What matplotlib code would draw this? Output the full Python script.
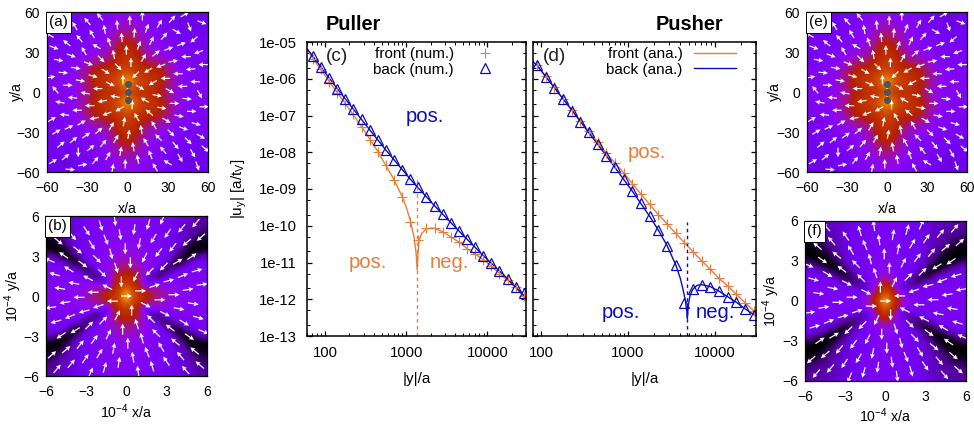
import matplotlib
matplotlib.use("Agg")
import matplotlib.pyplot as plt
import numpy as np
from matplotlib.colors import LinearSegmentedColormap
from matplotlib.ticker import FixedLocator, FuncFormatter, NullFormatter

plt.rcParams["font.family"] = ["Liberation Sans", "DejaVu Sans"]
plt.rcParams["mathtext.default"] = "regular"

W, H = 974, 425
ORANGE = "#ea7d3c"
BLUE = "#0d0db8"

# Data: velocity decay, panels (c) and (d)
y_grid = [70.8, 89.1, 112, 141, 178, 224, 282, 355, 447, 562, 708, 891, 1122, 1413, 1778, 2239, 2818, 3548, 4467, 5623, 7079, 8913, 11220, 14125, 17783, 22387, 28184]

c_front = [3.5e-6, 1.9e-6, 8.2e-7, 4.1e-7, 2.1e-7, 1.07e-7, 4.9e-8, 2.1e-8, 1.03e-8, 4.5e-9, 1.75e-9, 6.2e-10, 1.3e-10, 4.1e-11, 8.9e-11, 8.5e-11, 6.9e-11, 5.0e-11, 3.7e-11, 2.4e-11, 1.7e-11, 1.2e-11, 8e-12, 5e-12, 3.3e-12, 2.1e-12, 1.23e-12]
c_back = [4.1e-6, 2.1e-6, 1.05e-6, 5.4e-7, 2.8e-7, 1.5e-7, 7.8e-8, 4.1e-8, 2.1e-8, 1.15e-8, 6.0e-9, 3.3e-9, 1.86e-9, 1.1e-9, 5.9e-10, 3.5e-10, 2.1e-10, 1.2e-10, 7.2e-11, 4.4e-11, 2.6e-11, 1.55e-11, 9.8e-12, 5.9e-12, 3.6e-12, 2.2e-12, 1.45e-12]
c_front_line_x = [60, 70.8, 112, 178, 282, 447, 708, 891, 1000, 1122, 1250, 1330, 1368, 1395, 1440, 1550, 1778, 2050, 2239, 2818, 3548, 4467, 5623, 7079, 8913, 11220, 14125, 17783, 22387, 30000]
c_front_line_y = [6.2e-6, 3.6e-6, 8.6e-7, 2.1e-7, 5.0e-8, 1.05e-8, 1.8e-9, 6.2e-10, 3.3e-10, 1.4e-10, 5e-11, 1.7e-11, 6.3e-12, 1.6e-11, 3.9e-11, 6.2e-11, 8.2e-11, 8.7e-11, 8.5e-11, 6.9e-11, 5.0e-11, 3.6e-11, 2.4e-11, 1.7e-11, 1.2e-11, 8e-12, 5e-12, 3.3e-12, 2.1e-12, 1.0e-12]
c_back_line_x = [60, 70.8, 141, 282, 562, 1122, 2239, 4467, 8913, 17783, 30000]
c_back_line_y = [6.6e-6, 4.1e-6, 5.4e-7, 7.8e-8, 1.15e-8, 1.86e-9, 3.5e-10, 7.2e-11, 1.55e-11, 3.6e-12, 1.1e-12]

d_front = [2.3e-6, 1.17e-6, 5.8e-7, 2.9e-7, 1.45e-7, 7.1e-8, 3.7e-8, 1.9e-8, 9.3e-9, 5.1e-9, 2.75e-9, 1.41e-9, 7.2e-10, 3.8e-10, 2.0e-10, 1.13e-10, 6.2e-11, 3.5e-11, 1.95e-11, 1.12e-11, 6.5e-12, 3.7e-12, 2.3e-12, 1.35e-12, 8.1e-13, 4.9e-13]
d_back = [2.3e-6, 1.1e-6, 5.5e-7, 2.8e-7, 1.35e-7, 6.7e-8, 3.5e-8, 1.65e-8, 8e-9, 3.9e-9, 1.86e-9, 8.7e-10, 4.1e-10, 1.8e-10, 7.6e-11, 2.9e-11, 8.7e-12, 7.8e-13, 1.9e-12, 2.5e-12, 2.2e-12, 1.66e-12, 1.17e-12, 8.3e-13, 5.5e-13, 3.7e-13]
d_back_line_x = [80, 89.1, 224, 562, 1122, 1778, 2239, 2818, 3548, 4000, 4300, 4600, 4780, 4840, 4950, 5200, 5623, 6300, 7079, 8913, 11220, 14125, 17783, 22387, 30000]
d_back_line_y = [2.9e-6, 2.3e-6, 1.4e-7, 8.0e-9, 8.7e-10, 1.8e-10, 7.6e-11, 2.9e-11, 8.7e-12, 3.8e-12, 1.9e-12, 9e-13, 4.5e-13, 3e-13, 6.5e-13, 1.3e-12, 1.9e-12, 2.4e-12, 2.5e-12, 2.2e-12, 1.66e-12, 1.17e-12, 8.3e-13, 5.5e-13, 3.5e-13]

c_zero = 1368
d_zero = 4840

# Palette of the colour maps, black through purple and red to yellow
palette = [(0, 0, 0), (.316, .001, .588), (.447, .008, .951), (.548, .027, .951), (.632, .064, .588), (.707, .125, 0), (.775, .216, 0), (.837, .343, 0), (.894, .512, 0), (.949, .729, 0), (1, 1, 0)]

# One quadrant of each map, first row is y=0, first column is x=0
near_field = [
    [.62, .52, .56, .52, .42, .32, .27, .26, .27],
    [.98, .68, .60, .56, .47, .36, .28, .26, .26],
    [.70, .60, .58, .55, .47, .35, .28, .25, .25],
    [.62, .56, .46, .46, .40, .30, .26, .24, .24],
    [.58, .52, .38, .33, .30, .27, .24, .23, .23],
    [.54, .47, .34, .28, .26, .24, .23, .22, .22],
    [.46, .40, .31, .27, .25, .22, .21, .20, .21],
    [.38, .33, .29, .26, .23, .21, .19, .18, .20],
    [.32, .29, .26, .24, .22, .20, .19, .18, .20],
]
far_puller = [
    [1.0, .66, .58, .52, .47, .42, .37, .33, .30, .28, .27, .26, .26],
    [.80, .62, .55, .48, .42, .38, .34, .31, .29, .27, .26, .25, .25],
    [.60, .55, .45, .12, .25, .30, .30, .28, .27, .26, .25, .25, .25],
    [.54, .52, .44, .30, .06, .04, .18, .24, .25, .25, .25, .24, .24],
    [.48, .45, .38, .31, .25, .15, .02, .12, .21, .24, .24, .24, .24],
    [.40, .38, .34, .30, .26, .23, .17, .03, .01, .12, .20, .23, .22],
    [.35, .34, .32, .29, .26, .24, .22, .15, .04, .00, .05, .14, .18],
    [.32, .31, .30, .28, .26, .24, .22, .20, .14, .04, .00, .00, .04],
    [.30, .30, .28, .27, .25, .24, .22, .20, .18, .12, .03, .00, .00],
    [.28, .28, .27, .26, .25, .23, .22, .20, .18, .16, .10, .05, .03],
    [.27, .27, .26, .25, .24, .23, .22, .20, .18, .16, .13, .09, .07],
    [.27, .26, .26, .25, .24, .23, .22, .20, .18, .17, .15, .12, .10],
    [.26, .26, .25, .25, .24, .23, .22, .20, .19, .18, .16, .14, .12],
]
far_pusher = [
    [1.0, .62, .50, .34, .27, .25, .24, .24, .24, .24, .24, .24, .24],
    [.72, .58, .42, .28, .24, .22, .22, .23, .23, .23, .23, .23, .23],
    [.60, .50, .28, .10, .16, .22, .23, .23, .23, .23, .23, .23, .23],
    [.50, .38, .26, .20, .10, .03, .12, .18, .21, .22, .22, .22, .22],
    [.36, .30, .25, .22, .18, .10, .01, .03, .14, .18, .20, .21, .21],
    [.30, .28, .24, .22, .20, .17, .10, .01, .00, .04, .13, .17, .19],
    [.27, .26, .24, .22, .21, .19, .16, .09, .01, .00, .00, .04, .10],
    [.25, .25, .24, .22, .21, .20, .17, .14, .08, .02, .00, .00, .00],
    [.25, .24, .23, .22, .21, .20, .18, .15, .11, .07, .03, .00, .00],
    [.24, .24, .23, .22, .21, .20, .18, .16, .13, .10, .07, .04, .03],
    [.24, .24, .23, .22, .21, .20, .18, .16, .14, .12, .10, .08, .07],
    [.24, .24, .23, .22, .21, .20, .18, .16, .15, .13, .12, .11, .10],
    [.24, .24, .23, .22, .21, .20, .18, .17, .15, .14, .13, .12, .12],
]

# Arrow directions in degrees on a 15x15 table, top row first, left column first
arrows_near = [
    [170, 150, 150, 130, 130, 110, 100, 90, 90, 80, 60, 50, 30, 0, -20],
    [140, 140, 120, 120, 110, 100, 95, 90, 85, 70, 60, 50, -30, -70, -120],
    [150, 140, 130, 120, 120, 110, 95, 90, 80, 65, 50, 40, 20, -140, -130],
    [-20, -10, 130, 120, 150, 120, 100, 90, 70, 50, 40, 20, 170, -140, -160],
    [-15, -10, -20, -20, -30, -45, -60, 90, 60, 45, 30, 10, 180, -170, 180],
    [-5, -5, -10, -15, -20, -30, -45, 90, -135, -150, -160, 175, 180, -175, 180],
    [10, 0, -5, -10, -15, -25, -40, 90, -130, -150, -170, 180, 180, 180, 175],
    [130, 100, 110, 170, 180, 180, 170, 90, -30, -20, -10, -30, -60, -70, -60],
    [150, 170, 175, 180, -175, -170, -160, 90, 130, 150, -10, 0, 0, -5, 0],
    [170, 175, 180, -170, -170, -160, -150, 80, 120, 140, -30, -20, -10, 0, 0],
    [30, 20, 25, 30, 35, -100, 60, 80, 110, 120, -45, -30, -20, -15, -10],
    [30, 30, 30, 35, 40, 50, 60, 80, 100, 120, 135, -45, -40, -35, -30],
    [35, 40, 40, 45, 40, 50, 70, 90, 100, 120, 130, -60, -50, -45, -40],
    [35, 40, -90, 20, 50, 60, 80, 90, 100, 110, 130, 150, -60, -60, -50],
    [30, 60, -5, 10, 30, 60, 80, 90, 90, 100, 120, 150, 160, -60, -70],
]
arrows_puller = [
    [-45, -49, -54, -60, -67, -74, -82, -90, -98, -106, -113, -120, -126, -131, -135],
    [-41, -45, -50, -56, -63, -72, -81, -90, -99, -108, -117, -124, -130, -135, -139],
    [-36, -40, -45, -51, -59, -68, -79, -90, -101, -112, -121, -129, -135, -140, -144],
    [150, 146, -39, -45, -53, -63, -76, -90, -104, -117, -127, -135, -141, 34, 30],
    [157, 153, 149, -37, -45, -56, -72, -90, -108, -124, -135, -143, 31, 27, 23],
    [164, 162, 158, 153, 146, -45, -63, -90, -117, -135, 34, 27, 22, 18, 16],
    [172, 171, 169, 166, 162, 153, -45, -90, -135, 27, 18, 14, 11, 9, 8],
    [180, 180, 180, 180, 180, 180, 180, 0, 0, 0, 0, 0, 0, 0, 0],
    [-172, -171, -169, -166, -162, -153, 45, 90, 135, -27, -18, -14, -11, -9, -8],
    [-164, -162, -158, -153, -146, 45, 63, 90, 117, 135, -34, -27, -22, -18, -16],
    [-157, -153, -149, 37, 45, 56, 72, 90, 108, 124, 135, 143, -31, -27, -23],
    [-150, -146, 39, 45, 53, 63, 76, 90, 104, 117, 127, 135, 141, -34, -30],
    [36, 40, 45, 51, 59, 68, 79, 90, 101, 112, 121, 129, 135, 140, 144],
    [41, 45, 50, 56, 63, 72, 81, 90, 99, 108, 117, 124, 130, 135, 139],
    [45, 49, 54, 60, 67, 74, 82, 90, 98, 106, 113, 120, 126, 131, 135],
]
arrows_pusher = [
    [135, 131, 126, 120, 113, 106, 98, 90, 82, 74, 67, 60, 54, 49, 45],
    [139, 135, 130, 124, 117, 108, 99, 90, 81, 72, 63, 56, 50, 45, 41],
    [144, 140, 135, 129, 121, 112, 101, 90, 79, 68, 59, 51, 45, 40, 36],
    [-30, -34, 141, 135, 127, 117, 104, 90, 76, 63, 53, 45, 39, -146, -150],
    [-23, -27, -31, 143, 135, 124, 108, 90, 72, 56, 45, 37, -149, -153, -157],
    [-16, -18, -22, -27, -34, 135, 117, 90, 63, 45, -146, -153, -158, -162, -164],
    [-8, -9, -11, -14, -18, -27, 135, 90, 45, -153, -162, -166, -169, -171, -172],
    [0, 0, 0, 0, 0, 0, 0, 0, 180, 180, 180, 180, 180, 180, 180],
    [8, 9, 11, 14, 18, 27, -135, -90, -45, 153, 162, 166, 169, 171, 172],
    [16, 18, 22, 27, 34, -135, -117, -90, -63, -45, 146, 153, 158, 162, 164],
    [23, 27, 31, -143, -135, -124, -108, -90, -72, -56, -45, -37, 149, 153, 157],
    [30, 34, -141, -135, -127, -117, -104, -90, -76, -63, -53, -45, -39, 146, 150],
    [-144, -140, -135, -129, -121, -112, -101, -90, -79, -68, -59, -51, -45, -40, -36],
    [-139, -135, -130, -124, -117, -108, -99, -90, -81, -72, -63, -56, -50, -45, -41],
    [-135, -131, -126, -120, -113, -106, -98, -90, -82, -74, -67, -60, -54, -49, -45],
]
swimmer_y = [6, 0, -6]
ticks_near = [-60, -30, 0, 30, 60]
ticks_far = [-6, -3, 0, 3, 6]


def px_axes(fig, left, top, right, bottom):
    return fig.add_axes([left / W, 1 - bottom / H, (right - left) / W, (bottom - top) / H])


def mirror(quadrant):
    q = np.array(quadrant)
    top = np.hstack([q[:, :0:-1], q])
    return np.vstack([top[:0:-1], top])


def tilted_lattice(limit, step, tilt=20):
    # arrows sit on a slightly rotated square lattice
    u, v = np.meshgrid(np.arange(-14, 15) * step, np.arange(-14, 15) * step)
    t = np.deg2rad(tilt)
    x = u * np.cos(t) - v * np.sin(t)
    y = u * np.sin(t) + v * np.cos(t)
    keep = (np.abs(x) < limit * 0.97) & (np.abs(y) < limit * 0.97)
    return x[keep], y[keep]


def field_panel(fig, rect, grid, angles, limit, ticks, label, xlabel, ylabel, length, step, label_x, label_pad):
    ax = px_axes(fig, *rect)
    ax.imshow(mirror(grid), cmap=cmap, vmin=0, vmax=1, origin="lower", interpolation="bicubic",
              extent=[-limit, limit, -limit, limit], aspect="auto")
    x, y = tilted_lattice(limit, step)
    cell = limit * 2 * 0.93 / 14
    col = np.clip(np.round((x + limit * 0.93) / cell).astype(int), 0, 14)
    row = np.clip(np.round((limit * 0.93 - y) / cell).astype(int), 0, 14)
    rad = np.deg2rad(np.array(angles)[row, col])
    ax.quiver(x, y, length * np.cos(rad), length * np.sin(rad), color="white", units="dots",
              angles="uv", scale=1, scale_units="dots", width=1.2, headwidth=4, headlength=4, headaxislength=3.5,
              pivot="mid", minlength=0)
    ax.set_xlim(-limit, limit)
    ax.set_ylim(-limit, limit)
    ax.set_xticks(ticks)
    ax.set_yticks(ticks)
    ax.tick_params(length=0, labelsize=10)
    ax.tick_params(axis="x", pad=6.5)
    ax.tick_params(axis="y", pad=5)
    ax.set_xlabel(xlabel, fontsize=10.2, labelpad=label_pad)
    ax.set_ylabel(ylabel, fontsize=10.2)
    ax.yaxis.set_label_coords(label_x, 0.5)
    for s in ax.spines.values():
        s.set_linewidth(0.9)
    ax.text(0.014, 0.98, label, transform=ax.transAxes, ha="left", va="top", fontsize=11, zorder=5,
            bbox=dict(boxstyle="square,pad=0.22", fc="white", ec="black", lw=0.7))
    return ax


def log_panel(fig, rect, xlim, label, label_x):
    ax = px_axes(fig, *rect)
    ax.set_xscale("log")
    ax.set_yscale("log")
    ax.set_xlim(*xlim)
    ax.set_ylim(1e-13, 1e-5)
    ax.xaxis.set_major_locator(FixedLocator([100, 1000, 10000]))
    ax.xaxis.set_minor_locator(FixedLocator([m * d for d in (10, 100, 1000, 10000) for m in range(2, 10)]))
    ax.yaxis.set_major_locator(FixedLocator([10.0 ** e for e in range(-13, -4)]))
    ax.yaxis.set_minor_locator(FixedLocator([m * 10.0 ** e for e in range(-13, -5) for m in (2, 5)]))
    ax.xaxis.set_major_formatter(FuncFormatter(lambda v, p: "%d" % v))
    ax.xaxis.set_minor_formatter(NullFormatter())
    ax.yaxis.set_major_formatter(FuncFormatter(lambda v, p: "%.0e" % v))
    ax.yaxis.set_minor_formatter(NullFormatter())
    ax.tick_params(which="major", direction="in", top=True, right=True, length=3.8, width=0.9, labelsize=10.7)
    ax.tick_params(axis="x", which="major", pad=7)
    ax.tick_params(axis="y", which="major", pad=7.5)
    ax.tick_params(which="minor", direction="in", top=True, right=True, length=2, width=0.7)
    for s in ax.spines.values():
        s.set_linewidth(1.1)
    ax.set_xlabel("|y|/a", fontsize=11, labelpad=8.5)
    ax.text(label_x, 0.95, label, transform=ax.transAxes, ha="left", va="center", fontsize=13.8, color="#222222")
    return ax


def put(fig, x, y, s, **kw):
    fig.text(x / W, 1 - y / H, s, ha="center", va="center", **kw)


cmap = LinearSegmentedColormap.from_list("pm3d", palette)
fig = plt.figure(figsize=(W / 100, H / 100), dpi=100)

ax_a = field_panel(fig, (47, 12, 208, 172), near_field, arrows_near, 60, ticks_near, "(a)", "x/a", "y/a", 9.5, 10, -0.143, 5)
ax_e = field_panel(fig, (807, 12, 967, 172), near_field, arrows_near, 60, ticks_near, "(e)", "x/a", "y/a", 9.5, 10, -0.156, 5)
for ax in (ax_a, ax_e):
    ax.scatter([0, 0, 0], swimmer_y, s=26, color="#4d5358", zorder=4, linewidths=0)

lab_x = "10$^{-4}$ x/a"
lab_y = "10$^{-4}$ y/a"
field_panel(fig, (46, 216, 207, 376), far_puller, arrows_puller, 6, ticks_far, "(b)", lab_x, lab_y, 11, 1.12, -0.137, 2.5)
field_panel(fig, (805, 221, 966, 381), far_pusher, arrows_pusher, 6, ticks_far, "(f)", lab_x, lab_y, 11, 1.12, -0.143, 2)

# Puller
ax_c = log_panel(fig, (307, 42, 526, 336), (60, 30000), "(c)", 0.085)
ax_c.plot(c_front_line_x, c_front_line_y, color=ORANGE, lw=1)
ax_c.plot(c_back_line_x, c_back_line_y, color=BLUE, lw=1)
ax_c.plot([c_zero, c_zero], [1e-13, 2.2e-9], color=ORANGE, lw=1, ls=(0, (2.5, 2.5)))
ax_c.plot(y_grid, c_front, ls="none", marker="+", ms=7, mew=0.8, color=ORANGE, label="front (num.)")
ax_c.plot(y_grid, c_back, ls="none", marker="^", ms=7.2, mew=0.9, mfc="none", color=BLUE, label="back (num.)")
ax_c.set_ylabel("|u$_{y}$| [a/t$_{V}$]", fontsize=11)
ax_c.yaxis.set_label_coords(-0.265, 0.5)
ax_c.legend(loc="upper right", bbox_to_anchor=(0.94, 1.025), frameon=False, fontsize=11, markerfirst=False,
            handlelength=2, handletextpad=1.05, labelspacing=0.12, borderpad=0.3)

# Pusher
ax_d = log_panel(fig, (533, 42, 756, 336), (80, 30000), "(d)", 0.045)
ax_d.tick_params(which="both", labelleft=False)
ax_d.plot(y_grid[1:], d_front, color=ORANGE, lw=1, label="front (ana.)")
ax_d.plot(d_back_line_x, d_back_line_y, color=BLUE, lw=1, label="back (ana.)")
ax_d.plot([d_zero, d_zero], [1e-13, 1.3e-10], color=BLUE, lw=1, ls=(0, (2.5, 2.5)))
ax_d.plot(y_grid[1:], d_front, ls="none", marker="+", ms=7, mew=0.8, color=ORANGE)
ax_d.plot(y_grid[1:], d_back, ls="none", marker="^", ms=7.2, mew=0.9, mfc="none", color=BLUE)
ax_d.legend(loc="upper right", bbox_to_anchor=(0.965, 1.025), frameon=False, fontsize=11, markerfirst=False,
            handlelength=2.75, handletextpad=0.75, labelspacing=0.12, borderpad=0.3)

put(fig, 353, 24, "Puller", fontsize=14.4, fontweight="bold")
put(fig, 689, 24, "Pusher", fontsize=14.4, fontweight="bold")
put(fig, 425, 116, "pos.", fontsize=14.6, color=BLUE)
put(fig, 368, 263, "pos.", fontsize=14.6, color=ORANGE)
put(fig, 449, 263, "neg.", fontsize=14.6, color=ORANGE)
put(fig, 647, 153, "pos.", fontsize=14.6, color=ORANGE)
put(fig, 621, 312, "pos.", fontsize=14.6, color=BLUE)
put(fig, 715, 312, "neg.", fontsize=14.6, color=BLUE)

fig.savefig("out.png", dpi=100)
